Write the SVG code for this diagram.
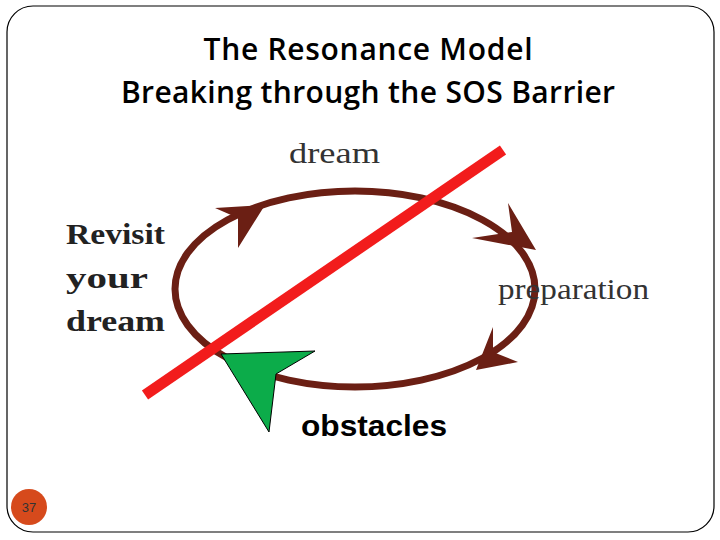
<svg xmlns="http://www.w3.org/2000/svg" width="720" height="540" viewBox="0 0 720 540">
<style>
.t{font-family:"Open Sans","Liberation Sans",sans-serif;font-size:30px;font-weight:600;fill:#000;text-anchor:middle}
.s{font-family:"Liberation Serif",serif;font-size:30px;fill:#333}
.b{font-family:"Liberation Serif",serif;font-size:30px;font-weight:bold;fill:#222}
.ah{fill:#6b1f14}
</style>
<rect x="7" y="6" width="707" height="526" rx="26" fill="#fff" stroke="#000" stroke-width="1.2"/>
<text class="t" x="368" y="60" textLength="329">The Resonance Model</text>
<text class="t" x="368" y="103" textLength="494">Breaking through the SOS Barrier</text>
<g id="connectors">
<ellipse cx="355" cy="289" rx="180" ry="98" fill="none" stroke="#6b1f14" stroke-width="7"/>
<polygon class="ah" points="265,205 215,208 238,218 238,248"/>
<polygon class="ah" points="536,250 508,203 512,232 472,238"/>
<polygon class="ah" points="476,370 518,362 493,352 493,327"/>
</g>
<g id="dream"><text class="s" x="289" y="163" textLength="91" lengthAdjust="spacingAndGlyphs">dream</text></g>
<g id="preparation"><text class="s" x="498" y="299" textLength="151" lengthAdjust="spacingAndGlyphs">preparation</text></g>
<g id="revisit"><text class="b" x="66" y="244" textLength="99" lengthAdjust="spacingAndGlyphs">Revisit</text><text class="b" x="66" y="288" textLength="82" lengthAdjust="spacingAndGlyphs">your</text><text class="b" x="66" y="331" textLength="99" lengthAdjust="spacingAndGlyphs">dream</text></g>
<g id="obstacles"><text x="301" y="436" textLength="146" lengthAdjust="spacingAndGlyphs" font-family="Liberation Sans,sans-serif" font-size="29" font-weight="bold">obstacles</text></g>
<g id="green"><polygon points="221,354 315,351 276,374 269,432" fill="#0cac4a" stroke="#000" stroke-width="1"/></g>
<line x1="145" y1="395" x2="503" y2="150" stroke="#f21c1c" stroke-width="11"/>
<g id="page"><circle cx="29" cy="507" r="18" fill="#d64a1c"/><text x="29" y="512" text-anchor="middle" font-family="Liberation Sans,sans-serif" font-size="13" fill="#333">37</text></g>
</svg>
